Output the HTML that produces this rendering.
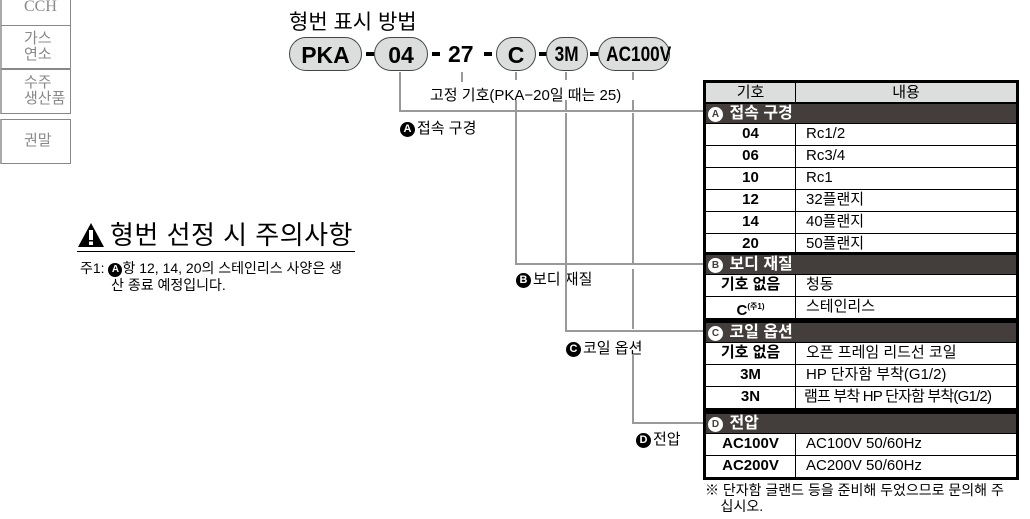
<!DOCTYPE html><html><head><meta charset="utf-8"><style>
body{margin:0;width:1030px;height:519px;position:relative;background:#fff;overflow:hidden;font-family:"Liberation Sans","Noto Sans CJK KR",sans-serif;color:#000}
.a{position:absolute;white-space:nowrap}
.side{position:absolute;left:0;width:71px;border:1px solid #888;border-left:2px solid #aaa;color:#888;font-size:15px;line-height:16px;box-sizing:border-box;padding-left:22px}
.pill{position:absolute;top:37px;height:34px;background:#dcdedd;border:1px solid #444;border-radius:17px;font-weight:bold;font-size:23px;line-height:34px;text-align:center;box-sizing:border-box;overflow:visible}
.pill span{display:inline-block;transform:scaleX(0.82);transform-origin:center}
.dash{position:absolute;top:52px;width:8px;height:4px;background:#000}
.gl{position:absolute;background:#999}
.lab{position:absolute;font-size:14px;white-space:nowrap}
.c{display:inline-block;width:15px;height:15px;border-radius:50%;background:#000;color:#fff;font-size:11px;font-weight:bold;line-height:15px;text-align:center;vertical-align:1px;margin-right:2px}
.tb{position:absolute;left:703px;width:316px;border:3px solid #000;box-sizing:border-box}
.r{display:flex;height:21px;border-top:1px solid #000;font-size:15px;line-height:20px}
.r:first-child{border-top:none}
.r .k{width:89px;border-right:1px solid #000;text-align:center;font-weight:bold}
.r .v{padding-left:10px}
.bar{background:#433d3b;color:#fff;font-weight:bold;font-size:16px;line-height:19px;height:19px;padding-left:2px}
.bar .c{background:#fff;color:#433d3b;border:1px solid #fff;width:13px;height:13px;line-height:13px;font-size:10px}
</style></head><body>
<div class="side" style="top:-10px;height:79px;padding-top:8px;font-family:'Liberation Serif',serif;font-size:16px">CCH</div>
<div class="side" style="top:25px;height:44px;padding-top:5px">가스<br>연소</div>
<div class="side" style="top:69px;height:45px;padding-top:5px">수주<br>생산품</div>
<div class="side" style="top:119px;height:45px;padding-top:13px">권말</div>

<div class="a" style="left:289px;top:6px;font-size:21px">형번 표시 방법</div>
<div class="pill" style="left:289px;width:73px">PKA</div>
<div class="dash" style="left:366px"></div>
<div class="pill" style="left:374px;width:54px">04</div>
<div class="dash" style="left:432px"></div>
<div class="a" style="left:448px;top:37px;font-size:23px;font-weight:bold;line-height:34px">27</div>
<div class="dash" style="left:484px"></div>
<div class="pill" style="left:496px;width:40px">C</div>
<div class="dash" style="left:539px"></div>
<div class="pill" style="left:546px;width:42px;font-size:21px"><span>3M</span></div>
<div class="dash" style="left:590px"></div>
<div class="pill" style="left:598px;width:72px;font-size:21px"><span>AC100V</span></div>

<div class="gl" style="left:461px;top:72px;width:2px;height:10px"></div>
<div class="lab" style="left:430px;top:84px;font-size:15px">고정 기호(PKA−20일 때는 25)</div>
<!-- A -->
<div class="gl" style="left:399px;top:72px;width:2px;height:40px"></div>
<div class="gl" style="left:399px;top:110px;width:305px;height:2px"></div>
<div class="lab" style="left:400px;top:117px;font-size:15px"><span class="c">A</span>접속 구경</div>
<!-- B -->
<div class="gl" style="left:515px;top:72px;width:2px;height:8px"></div>
<div class="gl" style="left:515px;top:100px;width:2px;height:165px"></div>
<div class="gl" style="left:515px;top:263px;width:189px;height:2px"></div>
<div class="lab" style="left:516px;top:268px;font-size:15px"><span class="c">B</span>보디 재질</div>
<!-- C -->
<div class="gl" style="left:565px;top:72px;width:2px;height:8px"></div>
<div class="gl" style="left:565px;top:100px;width:2px;height:10px"></div>
<div class="gl" style="left:565px;top:113px;width:2px;height:218px"></div>
<div class="gl" style="left:565px;top:330px;width:139px;height:2px"></div>
<div class="lab" style="left:566px;top:337px;font-size:15px"><span class="c">C</span>코일 옵션</div>
<!-- D -->
<div class="gl" style="left:632px;top:72px;width:2px;height:8px"></div>
<div class="gl" style="left:632px;top:100px;width:2px;height:10px"></div>
<div class="gl" style="left:632px;top:113px;width:2px;height:150px"></div>
<div class="gl" style="left:632px;top:269px;width:2px;height:60px"></div>
<div class="gl" style="left:632px;top:354px;width:2px;height:70px"></div>
<div class="gl" style="left:632px;top:422px;width:72px;height:2px"></div>
<div class="lab" style="left:636px;top:428px;font-size:15px"><span class="c">D</span>전압</div>

<div class="tb" style="top:80px">
<div class="r" style="background:#dcdedd;height:19px;font-weight:normal"><div class="k" style="font-weight:normal">기호</div><div class="v" style="flex:1;text-align:center;padding:0">내용</div></div>
<div class="bar" style="border-top:2px solid #000"><span class="c">A</span> 접속 구경</div>
<div class="r"><div class="k">04</div><div class="v">Rc1/2</div></div>
<div class="r"><div class="k">06</div><div class="v">Rc3/4</div></div>
<div class="r"><div class="k">10</div><div class="v">Rc1</div></div>
<div class="r"><div class="k">12</div><div class="v">32플랜지</div></div>
<div class="r"><div class="k">14</div><div class="v">40플랜지</div></div>
<div class="r"><div class="k">20</div><div class="v">50플랜지</div></div>
</div>
<div class="tb" style="top:252px">
<div class="bar"><span class="c">B</span> 보디 재질</div>
<div class="r"><div class="k">기호 없음</div><div class="v">청동</div></div>
<div class="r"><div class="k">C<sup style="font-size:8px">(주1)</sup></div><div class="v">스테인리스</div></div>
</div>
<div class="tb" style="top:320px">
<div class="bar"><span class="c">C</span> 코일 옵션</div>
<div class="r"><div class="k">기호 없음</div><div class="v">오픈 프레임 리드선 코일</div></div>
<div class="r"><div class="k">3M</div><div class="v">HP 단자함 부착(G1/2)</div></div>
<div class="r"><div class="k">3N</div><div class="v" style="letter-spacing:-0.8px;padding-left:8px">램프 부착 HP 단자함 부착(G1/2)</div></div>
</div>
<div class="tb" style="top:411px">
<div class="bar"><span class="c">D</span> 전압</div>
<div class="r"><div class="k">AC100V</div><div class="v">AC100V 50/60Hz</div></div>
<div class="r"><div class="k">AC200V</div><div class="v">AC200V 50/60Hz</div></div>
</div>
<div class="a" style="left:705px;top:482px;font-size:14px;line-height:16px">※ 단자함 글랜드 등을 준비해 두었으므로 문의해 주<br>&nbsp;&nbsp;&nbsp;&nbsp;십시오.</div>

<svg class="a" style="left:77px;top:222px" width="28" height="26"><polygon points="14,1 27,25 1,25" fill="#000"/><rect x="12" y="8" width="4" height="10" fill="#fff"/><rect x="12" y="19.5" width="4" height="3.5" fill="#fff"/></svg>
<div class="a" style="left:110px;top:215px;font-size:26px;letter-spacing:0.5px">형번 선정 시 주의사항</div>
<div class="gl" style="left:77px;top:251px;width:278px;height:1px;background:#000"></div>
<div class="a" style="left:80px;top:260px;font-size:14px;line-height:16px">주1: <span class="c" style="width:14px;height:14px;line-height:14px;font-size:10px;margin-right:0">A</span>항 12, 14, 20의 스테인리스 사양은 생<br>&nbsp;&nbsp;&nbsp;&nbsp;&nbsp;&nbsp;&nbsp;&nbsp;산 종료 예정입니다.</div>
</body></html>
